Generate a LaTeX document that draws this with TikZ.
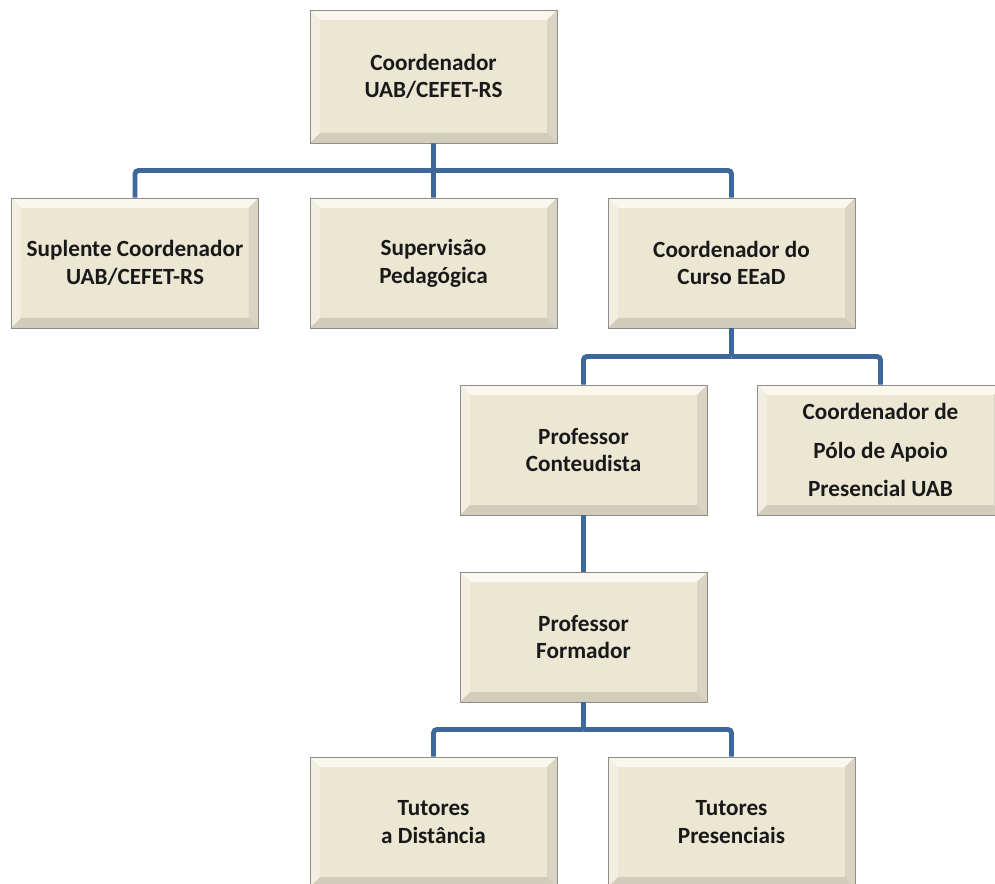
\documentclass[tikz,border=0pt]{standalone}
\usepackage{fontspec}
\setmainfont{Carlito}
\usetikzlibrary{calc}
\definecolor{boxBg}{RGB}{235,231,211}
\definecolor{boxTop}{RGB}{250,248,238}
\definecolor{boxLeft}{RGB}{242,239,225}
\definecolor{boxRight}{RGB}{218,213,195}
\definecolor{boxBottom}{RGB}{210,205,186}
\definecolor{boxText}{RGB}{25,25,25}
\definecolor{linkBlue}{RGB}{62,103,155}
\colorlet{boxBorder}{black!45}
\newcommand{\bev}{0.2cm}
\newcommand{\boxfont}{\bfseries\fontsize{13.2}{15.8}\selectfont}

\tikzset{
  orgbox/.style={draw=boxBorder, line width=0.4pt, fill=boxBg,
    minimum width=4.94cm, minimum height=2.6cm, inner sep=0pt,
    align=center, font=\boxfont, text=boxText,
    path picture={
      \fill[boxTop] (path picture bounding box.north west) -- (path picture bounding box.north east)
        -- ([shift={(-\bev,-\bev)}]path picture bounding box.north east)
        -- ([shift={(\bev,-\bev)}]path picture bounding box.north west) -- cycle;
      \fill[boxLeft] (path picture bounding box.north west) -- (path picture bounding box.south west)
        -- ([shift={(\bev,\bev)}]path picture bounding box.south west)
        -- ([shift={(\bev,-\bev)}]path picture bounding box.north west) -- cycle;
      \fill[boxRight] (path picture bounding box.north east) -- (path picture bounding box.south east)
        -- ([shift={(-\bev,\bev)}]path picture bounding box.south east)
        -- ([shift={(-\bev,-\bev)}]path picture bounding box.north east) -- cycle;
      \fill[boxBottom] (path picture bounding box.south west) -- (path picture bounding box.south east)
        -- ([shift={(-\bev,\bev)}]path picture bounding box.south east)
        -- ([shift={(\bev,\bev)}]path picture bounding box.south west) -- cycle;
    }},
  link/.style={draw=linkBlue, line width=2.8pt, rounded corners=2pt}
}

\begin{document}
\begin{tikzpicture}
  \useasboundingbox (0,0) rectangle (19.9,-17.68);

  \node[orgbox, minimum height=2.66cm] (coord) at (8.67,-1.53) {Coordenador\\UAB/CEFET-RS};

  \node[orgbox] (supl) at (2.70,-5.26) {Suplente Coordenador\\UAB/CEFET-RS};
  \node[orgbox] (superv) at (8.67,-5.26) {Supervisão\\Pedagógica};
  \node[orgbox] (curso) at (14.63,-5.26) {Coordenador do\\Curso EEaD};

  \node[orgbox] (conteud) at (11.67,-9.00) {Professor\\Conteudista};
  \node[orgbox] (polo) at (17.61,-9.00) {Coordenador de\\[6pt]Pólo de Apoio\\[6pt]Presencial UAB};

  \node[orgbox] (formador) at (11.67,-12.74) {Professor\\Formador};

  \node[orgbox] (tutdist) at (8.67,-16.44) {Tutores\\a Distância};
  \node[orgbox] (tutpres) at (14.63,-16.44) {Tutores\\Presenciais};

  % barras de ligacao
  \coordinate (busA) at ($(coord.south)!.5!(superv.north)$);
  \coordinate (busB) at ($(curso.south)!.5!(curso.south |- conteud.north)$);
  \coordinate (busC) at ($(formador.south)!.5!(formador.south |- tutdist.north)$);

  \draw[link] (coord.south) -- (busA);
  \draw[link] (busA) -| (supl.north);
  \draw[link] (busA) -- (superv.north);
  \draw[link] (busA) -| (curso.north);

  \draw[link] (curso.south) -- (busB);
  \draw[link] (busB) -| (conteud.north);
  \draw[link] (busB) -| (polo.north);

  \draw[link] (conteud.south) -- (formador.north);

  \draw[link] (formador.south) -- (busC);
  \draw[link] (busC) -| (tutdist.north);
  \draw[link] (busC) -| (tutpres.north);
\end{tikzpicture}
\end{document}
